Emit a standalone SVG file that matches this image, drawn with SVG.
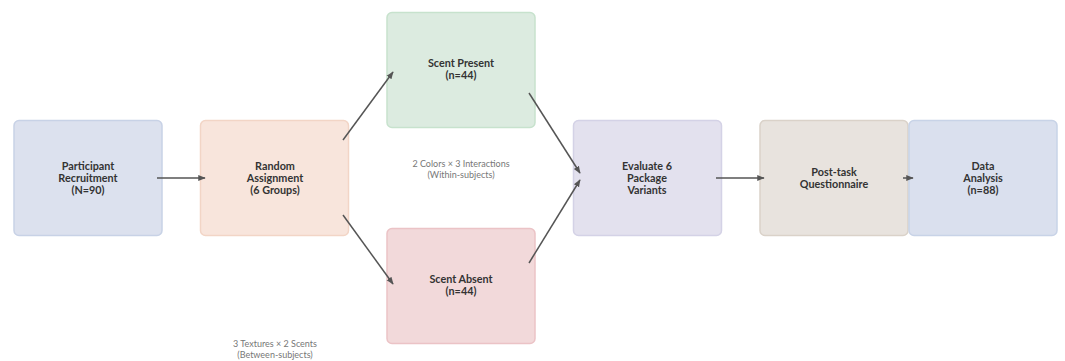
<svg xmlns="http://www.w3.org/2000/svg" width="1065" height="361" viewBox="0 0 1065 361">
<style>
.n{stroke-width:1.5}
.t{font-family:Lato,"Noto Sans","Liberation Sans",sans-serif;font-size:10.8px;font-weight:bold;fill:#333;text-anchor:middle}
.l{font-family:Lato,"Noto Sans","Liberation Sans",sans-serif;font-size:9px;fill:#777;text-anchor:middle}
.c{stroke:#555;stroke-width:1.5;fill:none;marker-end:url(#a)}
</style>
<defs>
<marker id="a" viewBox="0 0 10 10" refX="9" refY="5" markerWidth="7.5" markerHeight="7.5" orient="auto" markerUnits="userSpaceOnUse">
<path d="M0,1 L10,5 L0,9 Z" fill="#555"/>
</marker>
</defs>
<rect width="1065" height="361" fill="#fff"/>
<g id="recruit"><rect class="n" x="14" y="120.5" width="148" height="115" rx="5" fill="#dce1ee" stroke="#c8d2e6"/>
<text class="t" x="88" y="170">Participant</text><text class="t" x="88" y="182">Recruitment</text><text class="t" x="88" y="194">(N=90)</text></g>
<g id="assign"><rect class="n" x="200.5" y="120.5" width="148" height="115" rx="5" fill="#f8e5dc" stroke="#f2d5c6"/>
<text class="t" x="275" y="170">Random</text><text class="t" x="275" y="182">Assignment</text><text class="t" x="275" y="194">(6 Groups)</text></g>
<g id="present"><rect class="n" x="387" y="12.5" width="148" height="115" rx="5" fill="#dcebe0" stroke="#c7e2cd"/>
<text class="t" x="461" y="67">Scent Present</text><text class="t" x="461" y="79">(n=44)</text></g>
<g id="absent"><rect class="n" x="387" y="228.5" width="148" height="115" rx="5" fill="#f2d9da" stroke="#ebc3c6"/>
<text class="t" x="461" y="283">Scent Absent</text><text class="t" x="461" y="295">(n=44)</text></g>
<g id="evaluate"><rect class="n" x="573.5" y="120.5" width="148" height="115" rx="5" fill="#e3e1ee" stroke="#d4d2e6"/>
<text class="t" x="647" y="170">Evaluate 6</text><text class="t" x="647" y="182">Package</text><text class="t" x="647" y="194">Variants</text></g>
<g id="posttask"><rect class="n" x="760" y="120.5" width="148" height="115" rx="5" fill="#e8e3de" stroke="#dad2c9"/>
<text class="t" x="834" y="176">Post-task</text><text class="t" x="834" y="188">Questionnaire</text></g>
<g id="analysis"><rect class="n" x="909" y="120.5" width="148" height="115" rx="5" fill="#dae0ee" stroke="#c8d3e7"/>
<text class="t" x="983" y="170">Data</text><text class="t" x="983" y="182">Analysis</text><text class="t" x="983" y="194">(n=88)</text></g>
<g id="labels">
<text class="l" x="461" y="167">2 Colors × 3 Interactions</text><text class="l" x="461" y="178">(Within-subjects)</text>
<text class="l" x="275" y="347">3 Textures × 2 Scents</text><text class="l" x="275" y="358">(Between-subjects)</text>
</g>
<g id="connectors">
<line class="c" x1="157" y1="178" x2="205" y2="178"/>
<line class="c" x1="343" y1="140" x2="393" y2="72"/>
<line class="c" x1="343" y1="215" x2="393" y2="284"/>
<line class="c" x1="529" y1="93" x2="580" y2="173"/>
<line class="c" x1="529" y1="263" x2="580" y2="180"/>
<line class="c" x1="716" y1="178" x2="764" y2="178"/>
<line class="c" x1="903" y1="178" x2="913" y2="178"/>
</g>
</svg>
